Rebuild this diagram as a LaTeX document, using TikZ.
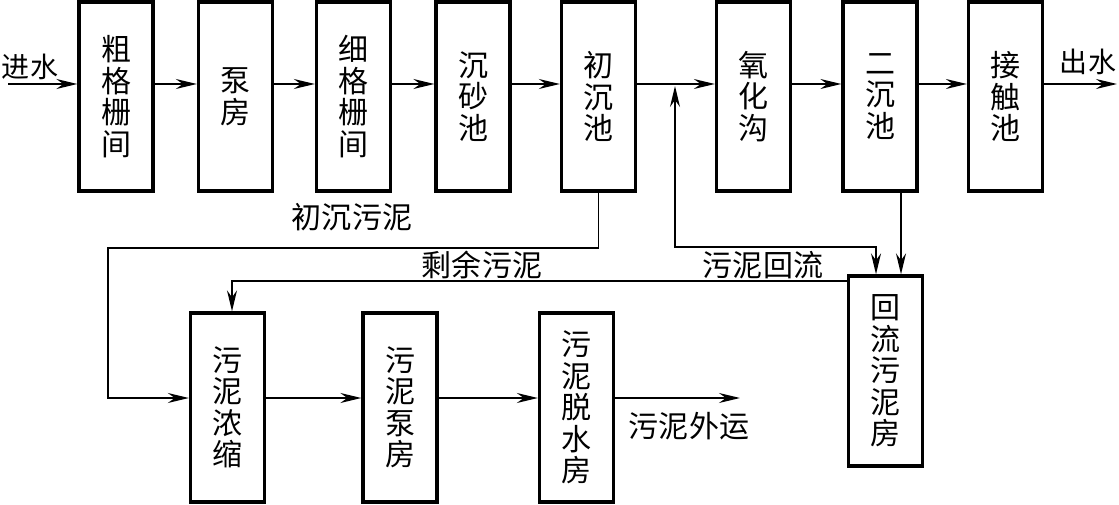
\documentclass[tikz,border=0pt]{standalone}
\usepackage{fontspec}
\newfontfamily\cjk[LetterSpace=1]{Noto Sans CJK SC}
\usetikzlibrary{arrows.meta}
\begin{document}
\begin{tikzpicture}[x=1pt,y=-1pt,
  box/.style={draw,line width=3.3pt,minimum width=74pt,minimum height=189pt,inner sep=0pt,align=center,font=\cjk\fontsize{30}{31.5}\selectfont},
  lbl/.style={inner sep=0pt,font=\cjk\fontsize{30}{31}\selectfont},
  sml/.style={inner sep=0pt,font=\cjk\fontsize{28}{31}\selectfont},
  conn/.style={line width=1.6pt},
  arr/.style={conn,-{Stealth[length=21pt,width=10pt,inset=7pt]}},
  barr/.style={conn,{Stealth[length=21pt,width=10pt,inset=7pt]}-{Stealth[length=21pt,width=10pt,inset=7pt]}}]
\fill[white] (0,0) rectangle (1119,505);
\useasboundingbox (0,0) rectangle (1119,505);
% top row
\node[box] (b1) at (116,96.5) {粗\\格\\栅\\间};
\node[box] (b2) at (235.5,96.5) {泵\\房};
\node[box] (b3) at (353.5,96.5) {细\\格\\栅\\间};
\node[box] (b4) at (473,96.5) {沉\\砂\\池};
\node[box] (b5) at (598.5,96.5) {初\\沉\\池};
\node[box] (b6) at (753.5,96.5) {氧\\化\\沟};
\node[box] (b7) at (880,96.5) {二\\沉\\池};
\node[box] (b8) at (1005.5,96.5) {接\\触\\池};
% bottom row
\node[box] (c1) at (227.5,407.5) {污\\泥\\浓\\缩};
\node[box] (c2) at (400,407.5) {污\\泥\\泵\\房};
\node[box] (c3) at (576.5,407.5) {污\\泥\\脱\\水\\房};
\node[box,minimum height=190pt] (r) at (885.5,371) {回\\流\\污\\泥\\房};
% helper coordinates
\coordinate (mainy) at (0,84);
\coordinate (lowy) at (0,398);
\coordinate (in) at (8,84);
\coordinate (out) at (1117,84);
\coordinate (sout) at (740,398);
\coordinate (p1) at (108,248);
\coordinate (p2) at (232,281);
\coordinate (rx) at (876,0);
\coordinate (jx) at (675,86);
\coordinate (jy) at (675,247);
\coordinate (ex) at (901,0);
% main line
\draw[arr] (in) -- (b1.west |- mainy);
\draw[arr] (b1.east |- mainy) -- (b2.west |- mainy);
\draw[arr] (b2.east |- mainy) -- (b3.west |- mainy);
\draw[arr] (b3.east |- mainy) -- (b4.west |- mainy);
\draw[arr] (b4.east |- mainy) -- (b5.west |- mainy);
\draw[arr] (b5.east |- mainy) -- (b6.west |- mainy);
\draw[arr] (b6.east |- mainy) -- (b7.west |- mainy);
\draw[arr] (b7.east |- mainy) -- (b8.west |- mainy);
\draw[arr] (b8.east |- mainy) -- (out);
% primary sludge
\draw[arr] (b5.south) |- (p1) |- (c1.west |- lowy);
% excess sludge
\draw[arr] (r.west |- p2) -- (p2) -- (p2 |- c1.north);
% return sludge
\draw[barr] (jx) -- (jy) -- (rx |- jy) -- (rx |- r.north);
% secondary clarifier to return sludge house
\draw[arr] (ex |- b7.south) -- (ex |- r.north);
% sludge line
\draw[arr] (c1.east |- lowy) -- (c2.west |- lowy);
\draw[arr] (c2.east |- lowy) -- (c3.west |- lowy);
\draw[arr] (c3.east |- lowy) -- (sout);
% labels
\node[sml] (lin) at (30,67) {进水};
\node[sml] (lout) at (1088,62) {出水};
\node[lbl] (l1) at (352,217) {初沉污泥};
\node[lbl] (l2) at (482,265) {剩余污泥};
\node[lbl] (l3) at (763,265) {污泥回流};
\node[lbl] (l4) at (689,426) {污泥外运};
\end{tikzpicture}
\end{document}
